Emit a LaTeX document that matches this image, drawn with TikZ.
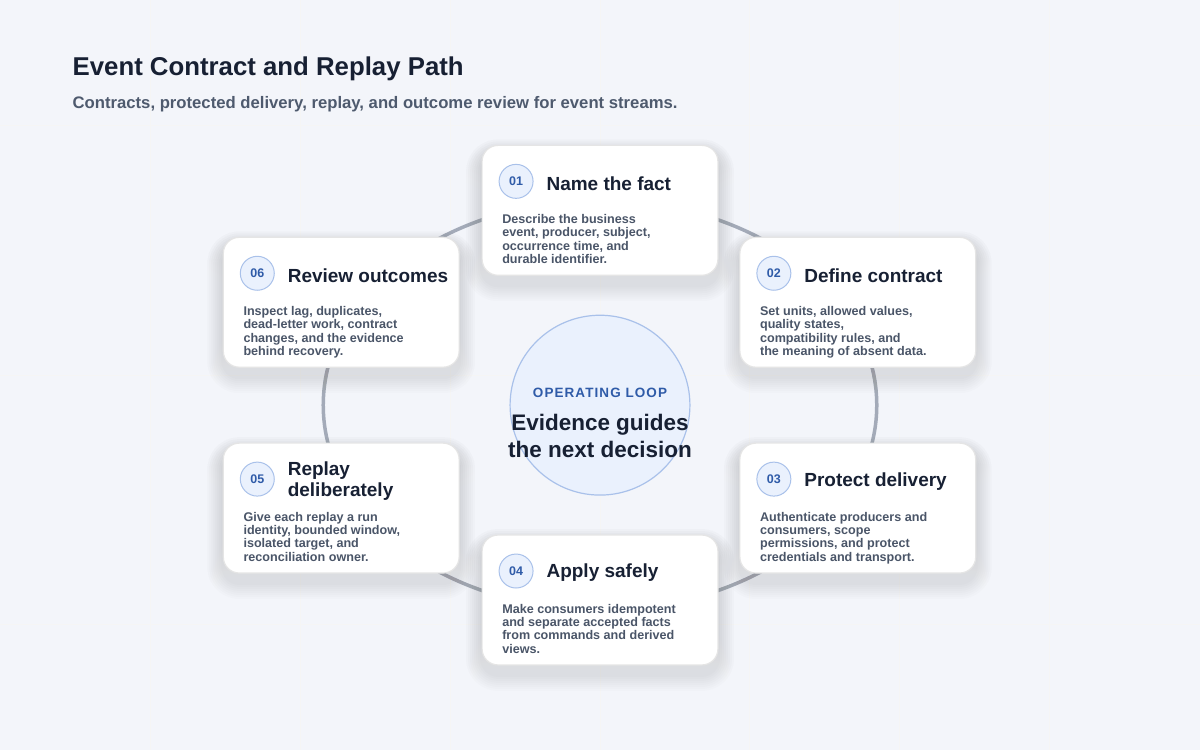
\documentclass[tikz,border=0pt]{standalone}
\usepackage{fontspec}
\setmainfont{Liberation Sans}
\definecolor{bg}{HTML}{F3F5FA}
\definecolor{ink}{HTML}{172033}
\definecolor{sub}{HTML}{4E5A6E}
\definecolor{body}{HTML}{4A5568}
\definecolor{ring}{HTML}{A3AAB8}
\definecolor{blue}{HTML}{2F5BA8}
\definecolor{badge}{HTML}{EAF1FD}
\definecolor{badgeline}{HTML}{A9C1EA}
\definecolor{shade}{HTML}{5A6A8A}
\begin{document}
\begin{tikzpicture}[x=1pt,y=-1pt,
  card/.style={draw=black!10,line width=1.2pt,fill=white,rounded corners=16pt},
  num/.style={circle,draw=badgeline,line width=1pt,fill=badge,minimum size=34pt,inner sep=0pt,text=blue,font=\fontsize{12.5}{12}\selectfont\bfseries},
  ttl/.style={anchor=west,align=left,text=ink,font=\fontsize{19}{21}\selectfont\bfseries},
  txt/.style={anchor=north west,align=left,text=body,font=\fontsize{12.6}{13.3}\selectfont\bfseries,inner sep=0pt}]
\fill[bg] (0,0) rectangle (1200,750);
\foreach \x in {150,300,...,1050} \draw[black!4,line width=1pt] (\x,0) -- (\x,750);
\foreach \y in {125,375,625} \draw[black!4,line width=1pt] (0,\y) -- (1200,\y);
\useasboundingbox (0,0) rectangle (1200,750);
\node[anchor=west,text=ink,font=\fontsize{25.8}{26}\selectfont\bfseries,inner sep=0pt] (title) at (72,68) {Event Contract and Replay Path};
\node[anchor=west,text=sub,font=\fontsize{16.7}{17}\selectfont\bfseries,inner sep=0pt] (subtitle) at (72,104) {Contracts, protected delivery, replay, and outcome review for event streams.};
\draw[ring,line width=3.5pt] (600,405) ellipse [x radius=277,y radius=205];
\node[circle,draw=badgeline,line width=1.2pt,fill=badge,minimum size=180pt] (hub) at (600,405) {};
\node[text=blue,font=\fontsize{13.5}{13}\selectfont\bfseries\addfontfeatures{LetterSpace=8}] (hl) at (600,393) {OPERATING LOOP};
\node[text=ink,align=center,font=\fontsize{22.5}{27}\selectfont\bfseries] (hm) at (600,436) {Evidence guides\\the next decision};
\foreach \n/\x/\y/\t/\b in {
 01/482/145/{Name the fact}/{Describe the business\\event, producer, subject,\\occurrence time, and\\durable identifier.},
 02/740/237/{Define contract}/{Set units, allowed values,\\quality states,\\compatibility rules, and\\the meaning of absent data.},
 03/740/443/{Protect delivery}/{Authenticate producers and\\consumers, scope\\permissions, and protect\\credentials and transport.},
 04/482/535/{Apply safely}/{Make consumers idempotent\\and separate accepted facts\\from commands and derived\\views.},
 05/223/443/{Replay\\deliberately}/{Give each replay a run\\identity, bounded window,\\isolated target, and\\reconciliation owner.},
 06/223/237/{Review outcomes}/{Inspect lag, duplicates,\\dead-letter work, contract\\changes, and the evidence\\behind recovery.}}{
 \foreach \s in {2,4,...,16}
   \fill[shade,opacity=0.012,rounded corners=16pt+\s pt] (\x-\s,\y-\s+10) rectangle (\x+236+\s,\y+130+\s+10);
 \draw[card] (\x,\y) rectangle ++(236,130);
 \node[num] (n\n) at (\x+34,\y+36) {\n};
 \node[ttl] (t\n) at (\x+61,\y+38) {\t};
 \node[txt] (b\n) at (\x+20,\y+69) {\b};
}
\end{tikzpicture}
\end{document}
